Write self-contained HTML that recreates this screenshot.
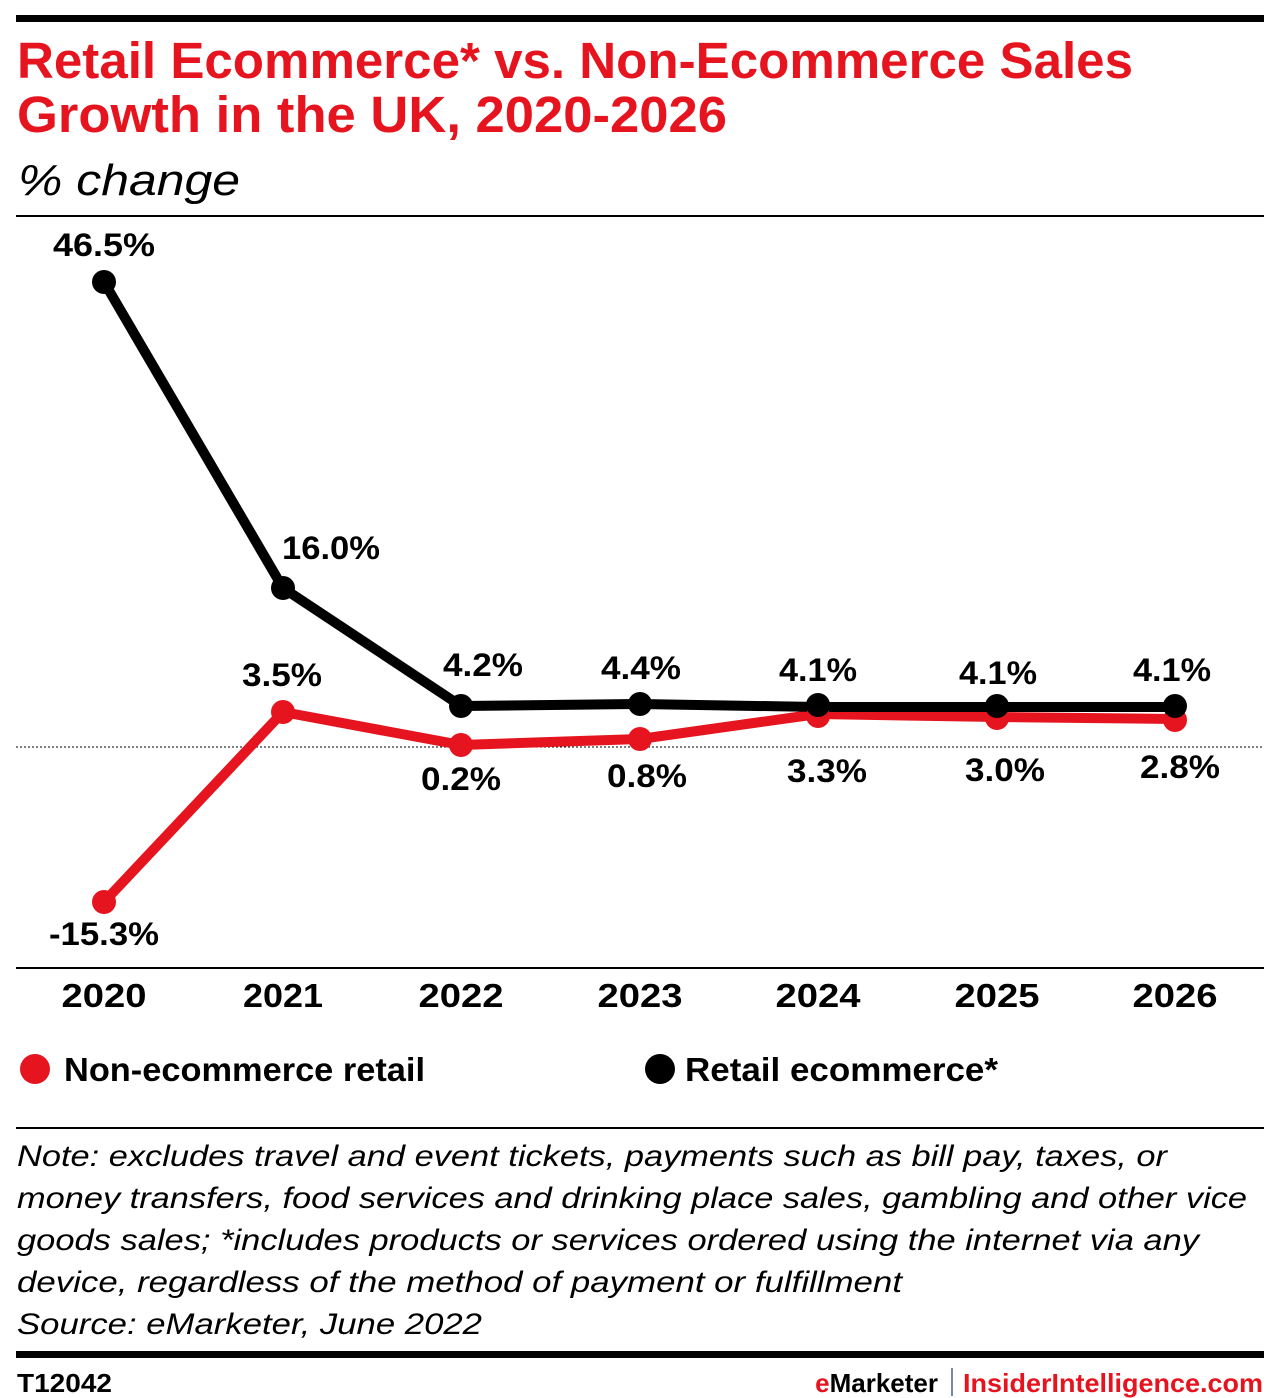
<!DOCTYPE html>
<html><head><meta charset="utf-8"><style>body{margin:0;background:#fff}svg{display:block}</style></head>
<body>
<svg width="1280" height="1398" viewBox="0 0 1280 1398" xmlns="http://www.w3.org/2000/svg" font-family="Liberation Sans, sans-serif">
<rect x="16" y="15" width="1248" height="7" fill="#000"/>
<text x="17" y="78" font-size="51" font-weight="bold" fill="#e5141e" textLength="1116" lengthAdjust="spacingAndGlyphs">Retail Ecommerce* vs. Non-Ecommerce Sales</text>
<text x="17" y="132" font-size="51" font-weight="bold" fill="#e5141e" textLength="710" lengthAdjust="spacingAndGlyphs">Growth in the UK, 2020-2026</text>
<text x="18" y="195" font-size="44" font-style="italic" fill="#000" textLength="222" lengthAdjust="spacingAndGlyphs">% change</text>
<rect x="16" y="215" width="1248" height="2" fill="#000"/>
<line x1="16" y1="747" x2="1264" y2="747" stroke="#000" stroke-width="1" stroke-dasharray="2,2"/>
<rect x="16" y="967" width="1248" height="2" fill="#000"/>
<g fill="none" stroke-width="10" stroke-linejoin="round">
<polyline stroke="#e5141e" points="104,902 283,712 461,745 640,739 818,714 997,717 1175,719"/>
<polyline stroke="#000" points="104,282 283,588 461,706 640,704 818,707 997,707 1175,707"/>
</g>
<g fill="#e5141e"><circle cx="104" cy="902" r="12"/><circle cx="283" cy="712" r="12"/><circle cx="461" cy="745" r="12"/><circle cx="640" cy="739" r="12"/><circle cx="818" cy="716" r="12"/><circle cx="997" cy="718" r="12"/><circle cx="1175" cy="720" r="12"/></g>
<g fill="#000"><circle cx="104" cy="282" r="12"/><circle cx="283" cy="588" r="12"/><circle cx="461" cy="706" r="12"/><circle cx="640" cy="704" r="12"/><circle cx="818" cy="705" r="12"/><circle cx="997" cy="706" r="12"/><circle cx="1175" cy="706" r="12"/></g>
<g font-size="32" font-weight="bold" fill="#000" text-anchor="middle">
<text x="104" y="256" textLength="102" lengthAdjust="spacingAndGlyphs">46.5%</text>
<text x="331" y="559" textLength="98" lengthAdjust="spacingAndGlyphs">16.0%</text>
<text x="483" y="676" textLength="80" lengthAdjust="spacingAndGlyphs">4.2%</text>
<text x="641" y="679" textLength="80" lengthAdjust="spacingAndGlyphs">4.4%</text>
<text x="818" y="681" textLength="78" lengthAdjust="spacingAndGlyphs">4.1%</text>
<text x="998" y="684" textLength="78" lengthAdjust="spacingAndGlyphs">4.1%</text>
<text x="1172" y="681" textLength="78" lengthAdjust="spacingAndGlyphs">4.1%</text>
<text x="282" y="686" textLength="80" lengthAdjust="spacingAndGlyphs">3.5%</text>
<text x="461" y="790" textLength="80" lengthAdjust="spacingAndGlyphs">0.2%</text>
<text x="647" y="787" textLength="80" lengthAdjust="spacingAndGlyphs">0.8%</text>
<text x="827" y="782" textLength="80" lengthAdjust="spacingAndGlyphs">3.3%</text>
<text x="1005" y="781" textLength="80" lengthAdjust="spacingAndGlyphs">3.0%</text>
<text x="1180" y="778" textLength="80" lengthAdjust="spacingAndGlyphs">2.8%</text>
<text x="104" y="945" textLength="110" lengthAdjust="spacingAndGlyphs">-15.3%</text>
</g>
<g font-size="33" font-weight="bold" fill="#000" text-anchor="middle">
<text x="104" y="1007" textLength="85" lengthAdjust="spacingAndGlyphs">2020</text><text x="283" y="1007" textLength="80" lengthAdjust="spacingAndGlyphs">2021</text><text x="461" y="1007" textLength="85" lengthAdjust="spacingAndGlyphs">2022</text><text x="640" y="1007" textLength="85" lengthAdjust="spacingAndGlyphs">2023</text><text x="818" y="1007" textLength="85" lengthAdjust="spacingAndGlyphs">2024</text><text x="997" y="1007" textLength="85" lengthAdjust="spacingAndGlyphs">2025</text><text x="1175" y="1007" textLength="85" lengthAdjust="spacingAndGlyphs">2026</text>
</g>
<circle cx="35" cy="1069" r="15" fill="#e5141e"/>
<text x="64" y="1081" font-size="33" font-weight="bold" fill="#000" textLength="361" lengthAdjust="spacingAndGlyphs">Non-ecommerce retail</text>
<circle cx="660" cy="1069" r="15" fill="#000"/>
<text x="685" y="1081" font-size="33" font-weight="bold" fill="#000" textLength="313" lengthAdjust="spacingAndGlyphs">Retail ecommerce*</text>
<rect x="16" y="1127" width="1248" height="2" fill="#000"/>
<g font-size="30" font-style="italic" fill="#000">
<text x="17" y="1166" textLength="1150" lengthAdjust="spacingAndGlyphs">Note: excludes travel and event tickets, payments such as bill pay, taxes, or</text>
<text x="17" y="1208" textLength="1230" lengthAdjust="spacingAndGlyphs">money transfers, food services and drinking place sales, gambling and other vice</text>
<text x="17" y="1250" textLength="1182" lengthAdjust="spacingAndGlyphs">goods sales; *includes products or services ordered using the internet via any</text>
<text x="17" y="1292" textLength="885" lengthAdjust="spacingAndGlyphs">device, regardless of the method of payment or fulfillment</text>
<text x="17" y="1334" textLength="465" lengthAdjust="spacingAndGlyphs">Source: eMarketer, June 2022</text>
</g>
<rect x="16" y="1351" width="1248" height="7" fill="#000"/>
<text x="17" y="1392" font-size="26" font-weight="bold" fill="#000" textLength="95" lengthAdjust="spacingAndGlyphs">T12042</text>
<text x="938" y="1392" font-size="26" font-weight="bold" fill="#e5141e" text-anchor="end">e<tspan fill="#000">Marketer</tspan></text>
<rect x="951" y="1368" width="2" height="28" fill="#7a8aa0"/>
<text x="1263" y="1392" font-size="26" font-weight="bold" fill="#e5141e" text-anchor="end" textLength="300" lengthAdjust="spacingAndGlyphs">InsiderIntelligence.com</text>
</svg>
</body></html>
